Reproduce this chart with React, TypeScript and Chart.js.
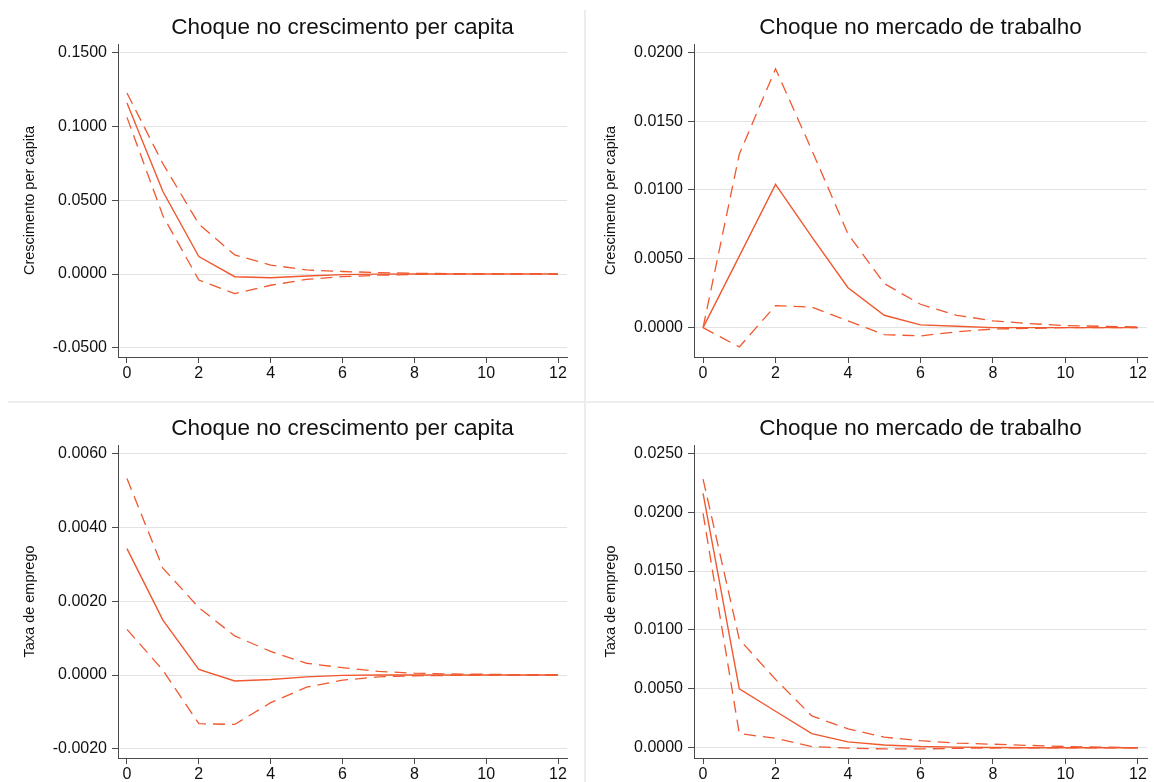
import React, { useEffect, useRef } from 'react';
import { Chart, registerables } from 'chart.js';

Chart.register(...registerables);

// ---------- data ----------
const steps = [0, 1, 2, 3, 4, 5, 6, 7, 8, 9, 10, 11, 12];
const xTicks = [0, 2, 4, 6, 8, 10, 12];

const titleGrowthShock = 'Choque no crescimento per capita';
const titleLabourShock = 'Choque no mercado de trabalho';
const yLabelGrowth = 'Crescimento per capita';
const yLabelEmployment = 'Taxa de emprego';

// growth shock -> per capita growth
const growthOnGrowthIrf = [0.1158, 0.0559, 0.0118, -0.0018, -0.0025, -0.0013, -0.0004, -0.0001, 0.0, 0.0, 0.0, 0.0, 0.0];
const growthOnGrowthUpper = [0.1226, 0.0747, 0.0339, 0.0129, 0.0061, 0.0028, 0.0017, 0.001, 0.0005, 0.0003, 0.0001, 0.0001, 0.0];
const growthOnGrowthLower = [0.1061, 0.0395, -0.0041, -0.0133, -0.0076, -0.0036, -0.0018, -0.0008, -0.0003, -0.0001, -0.0001, 0.0, 0.0];
const growthTicksA = [-0.05, 0, 0.05, 0.1, 0.15];

// labour shock -> per capita growth
const labourOnGrowthIrf = [0.0, 0.0052, 0.0104, 0.0066, 0.0029, 0.0009, 0.0002, 0.0001, 0.0, 0.0, 0.0, 0.0, 0.0];
const labourOnGrowthUpper = [0.0, 0.0126, 0.0188, 0.0129, 0.0068, 0.0032, 0.0017, 0.0009, 0.0005, 0.0003, 0.00015, 0.0001, 0.00005];
const labourOnGrowthLower = [0.0, -0.0014, 0.0016, 0.0015, 0.0005, -0.0005, -0.0006, -0.0003, -0.0001, -0.00005, 0.0, 0.0, 0.0];
const growthTicksB = [0, 0.005, 0.01, 0.015, 0.02];

// growth shock -> employment rate
const growthOnEmpIrf = [0.00343, 0.00149, 0.00015, -0.00016, -0.00012, -0.00005, -0.00001, 0.0, 0.0, 0.0, 0.0, 0.0, 0.0];
const growthOnEmpUpper = [0.00533, 0.0029, 0.00183, 0.00106, 0.00064, 0.00032, 0.0002, 0.0001, 0.00005, 0.00003, 0.00002, 0.00001, 0.00001];
const growthOnEmpLower = [0.00124, 0.00013, -0.00132, -0.00134, -0.00075, -0.00033, -0.00014, -0.00005, -0.00002, -0.00001, 0.0, 0.0, 0.0];
const empTicksA = [-0.002, 0, 0.002, 0.004, 0.006];

// labour shock -> employment rate
const labourOnEmpIrf = [0.0216, 0.005, 0.0031, 0.0012, 0.0005, 0.00023, 0.0001, 0.00005, 0.00002, 0.0, 0.0, 0.0, 0.0];
const labourOnEmpUpper = [0.0228, 0.0092, 0.0058, 0.0027, 0.0016, 0.0009, 0.0006, 0.0004, 0.0003, 0.0002, 0.0001, 0.00005, 0.0];
const labourOnEmpLower = [0.0199, 0.0012, 0.0008, 0.0001, -0.00003, -0.0001, -0.0001, -0.00005, -0.00002, 0.0, 0.0, 0.0, 0.0];
const empTicksB = [0, 0.005, 0.01, 0.015, 0.02, 0.025];

// ---------- styling / layout ----------
const FONT = '"Liberation Sans", Arial, Helvetica, sans-serif';
const LINE_COLOR = '#f0582f';
const AXIS_COLOR = '#4a4a4a';
const GRID_COLOR = '#e3e3e3';

type PanelCfg = {
  title: string;
  yLabel: string;
  irf: number[];
  upper: number[];
  lower: number[];
  yTicks: number[];
  yMin: number;
  yMax: number;
  left: number;
  top: number;
  width: number;
  height: number;
  yWidth: number;
  xHeight: number;
  padRight: number;
  yTitlePad: number;
  titlePadTop: number;
  titlePadBottom: number;
};

const panels: PanelCfg[] = [
  {
    title: titleGrowthShock, yLabel: yLabelGrowth,
    irf: growthOnGrowthIrf, upper: growthOnGrowthUpper, lower: growthOnGrowthLower,
    yTicks: growthTicksA, yMin: -0.0562, yMax: 0.1558,
    left: 0, top: 0, width: 585, height: 402,
    yWidth: 118, xHeight: 45, padRight: 18, yTitlePad: 21,
    titlePadTop: 14.5, titlePadBottom: 2.5,
  },
  {
    title: titleLabourShock, yLabel: yLabelGrowth,
    irf: labourOnGrowthIrf, upper: labourOnGrowthUpper, lower: labourOnGrowthLower,
    yTicks: growthTicksB, yMin: -0.00213, yMax: 0.0206,
    left: 585, top: 0, width: 569, height: 402,
    yWidth: 109, xHeight: 45, padRight: 7, yTitlePad: 17,
    titlePadTop: 14.5, titlePadBottom: 2.5,
  },
  {
    title: titleGrowthShock, yLabel: yLabelEmployment,
    irf: growthOnEmpIrf, upper: growthOnEmpUpper, lower: growthOnEmpLower,
    yTicks: empTicksA, yMin: -0.00225, yMax: 0.00624,
    left: 0, top: 402, width: 585, height: 380,
    yWidth: 118, xHeight: 24, padRight: 18, yTitlePad: 21,
    titlePadTop: 13.5, titlePadBottom: 2.5,
  },
  {
    title: titleLabourShock, yLabel: yLabelEmployment,
    irf: labourOnEmpIrf, upper: labourOnEmpUpper, lower: labourOnEmpLower,
    yTicks: empTicksB, yMin: -0.00087, yMax: 0.0257,
    left: 585, top: 402, width: 569, height: 380,
    yWidth: 109, xHeight: 24, padRight: 7, yTitlePad: 17,
    titlePadTop: 13.5, titlePadBottom: 2.5,
  },
];

function toPoints(values: number[]) {
  return steps.map((x, i) => ({ x, y: values[i] }));
}

function Panel({ cfg }: { cfg: PanelCfg }) {
  const ref = useRef<HTMLCanvasElement | null>(null);

  useEffect(() => {
    if (!ref.current) return;
    const dashed = [12, 7];
    const chart = new Chart(ref.current, {
      type: 'line',
      data: {
        datasets: [
          { data: toPoints(cfg.upper), borderColor: LINE_COLOR, borderWidth: 1.3, borderDash: dashed, pointRadius: 0, fill: false, tension: 0 },
          { data: toPoints(cfg.lower), borderColor: LINE_COLOR, borderWidth: 1.3, borderDash: dashed, pointRadius: 0, fill: false, tension: 0 },
          { data: toPoints(cfg.irf), borderColor: LINE_COLOR, borderWidth: 1.4, pointRadius: 0, fill: false, tension: 0 },
        ],
      },
      options: {
        animation: false,
        responsive: false,
        maintainAspectRatio: false,
        devicePixelRatio: 1,
        layout: { padding: { left: 0, right: cfg.padRight, top: 0, bottom: 0 } },
        plugins: {
          legend: { display: false },
          tooltip: { enabled: false },
          title: {
            display: true,
            text: cfg.title,
            fullSize: false,
            color: '#111',
            font: { family: FONT, size: 22.5, weight: 'normal', lineHeight: 1.2 },
            padding: { top: cfg.titlePadTop, bottom: cfg.titlePadBottom },
          },
        },
        scales: {
          x: {
            type: 'linear',
            min: -0.25,
            max: 12.25,
            afterBuildTicks: (s: any) => { s.ticks = xTicks.map((v) => ({ value: v })); },
            afterFit: (s: any) => { s.height = cfg.xHeight; },
            grid: { display: true, drawOnChartArea: false, tickLength: 6, tickColor: AXIS_COLOR },
            border: { display: true, color: AXIS_COLOR, width: 1 },
            ticks: {
              color: '#111',
              font: { family: FONT, size: 16 },
              padding: 1,
              maxRotation: 0,
              autoSkip: false,
              callback: (v: any) => String(v),
            },
          },
          y: {
            type: 'linear',
            min: cfg.yMin,
            max: cfg.yMax,
            afterBuildTicks: (s: any) => { s.ticks = cfg.yTicks.map((v) => ({ value: v })); },
            afterFit: (s: any) => { s.width = cfg.yWidth; },
            grid: { display: true, color: GRID_COLOR, lineWidth: 1, tickLength: 6, tickColor: AXIS_COLOR },
            border: { display: true, color: AXIS_COLOR, width: 1 },
            ticks: {
              color: '#111',
              font: { family: FONT, size: 16 },
              padding: 5,
              autoSkip: false,
              callback: (v: any) => Number(v).toFixed(4),
            },
            title: {
              display: true,
              text: cfg.yLabel,
              color: '#111',
              font: { family: FONT, size: 14.5 },
              padding: { top: cfg.yTitlePad, bottom: 0 },
            },
          },
        },
      } as any,
    });
    return () => chart.destroy();
  }, [cfg]);

  return (
    <canvas
      ref={ref}
      width={cfg.width}
      height={cfg.height}
      style={{ position: 'absolute', left: cfg.left, top: cfg.top, width: cfg.width, height: cfg.height, display: 'block' }}
    />
  );
}

export default function App() {
  return (
    <div style={{ position: 'absolute', left: 0, top: 0, width: 1154, height: 782, background: '#fff', overflow: 'hidden' }}>
      {panels.map((p, i) => (
        <Panel key={i} cfg={p} />
      ))}
      <div style={{ position: 'absolute', left: 584, top: 10, width: 2, height: 772, background: '#ededed' }} />
      <div style={{ position: 'absolute', left: 8, top: 401, width: 1146, height: 2, background: '#ededed' }} />
    </div>
  );
}
